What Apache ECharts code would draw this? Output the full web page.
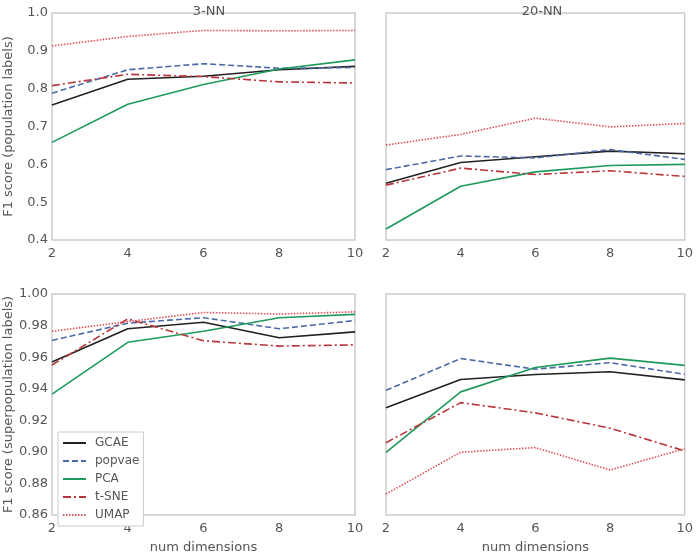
<html>
<meta http-equiv="Content-Type" content="text/html; charset=UTF-8">
<script type="text/javascript" src="https://cdn.jsdelivr.net/npm/echarts@6/dist/echarts.min.js"></script>
<body style="margin:0;background:#fff">
<div id="chart" style="width:696px;height:555px;"></div>
<script type="text/javascript">
var dims = [2, 4, 6, 8, 10];
var methods = ["GCAE", "popvae", "PCA", "t-SNE", "UMAP"];
var panelTitles = ["3-NN", "20-NN"];

// population labels, 3-NN
var pop3_GCAE   = [0.757, 0.825, 0.833, 0.850, 0.859];
var pop3_popvae = [0.788, 0.850, 0.866, 0.854, 0.856];
var pop3_PCA    = [0.658, 0.759, 0.811, 0.852, 0.876];
var pop3_tSNE   = [0.808, 0.838, 0.832, 0.818, 0.815];
var pop3_UMAP   = [0.913, 0.938, 0.954, 0.953, 0.954];
// population labels, 20-NN
var pop20_GCAE   = [0.550, 0.605, 0.620, 0.635, 0.628];
var pop20_popvae = [0.586, 0.622, 0.617, 0.639, 0.613];
var pop20_PCA    = [0.429, 0.542, 0.580, 0.597, 0.600];
var pop20_tSNE   = [0.545, 0.590, 0.573, 0.583, 0.568];
var pop20_UMAP   = [0.651, 0.679, 0.722, 0.699, 0.708];
// superpopulation labels, 3-NN
var sup3_GCAE   = [0.9569, 0.9780, 0.9821, 0.9723, 0.9760];
var sup3_popvae = [0.9706, 0.9815, 0.9850, 0.9780, 0.9832];
var sup3_PCA    = [0.9366, 0.9694, 0.9764, 0.9850, 0.9871];
var sup3_tSNE   = [0.9550, 0.9842, 0.9704, 0.9670, 0.9678];
var sup3_UMAP   = [0.9764, 0.9825, 0.9883, 0.9873, 0.9887];
// superpopulation labels, 20-NN
var sup20_GCAE   = [0.9280, 0.9458, 0.9490, 0.9507, 0.9456];
var sup20_popvae = [0.9390, 0.9591, 0.9524, 0.9565, 0.9491];
var sup20_PCA    = [0.8996, 0.9380, 0.9534, 0.9594, 0.9548];
var sup20_tSNE   = [0.9058, 0.9312, 0.9247, 0.9150, 0.9006];
var sup20_UMAP   = [0.8733, 0.8998, 0.9027, 0.8885, 0.9020];

var panels = [
  [pop3_GCAE, pop3_popvae, pop3_PCA, pop3_tSNE, pop3_UMAP],
  [pop20_GCAE, pop20_popvae, pop20_PCA, pop20_tSNE, pop20_UMAP],
  [sup3_GCAE, sup3_popvae, sup3_PCA, sup3_tSNE, sup3_UMAP],
  [sup20_GCAE, sup20_popvae, sup20_PCA, sup20_tSNE, sup20_UMAP]
];

var styles = [
  {color: "#222222", type: "solid"},
  {color: "#4c6aa8", type: [6, 3]},
  {color: "#1e9a5c", type: "solid"},
  {color: "#b8363a", type: [8, 3, 2, 3]},
  {color: "#e0505a", type: [1.5, 1.5]}
];

var txt = "#555555";
var font = "DejaVu Sans";

var grids = [
  {left: 52, top: 13, width: 303, height: 227},
  {left: 386, top: 13, width: 303, height: 227},
  {left: 52, top: 294, width: 303, height: 228},
  {left: 386, top: 294, width: 303, height: 228}
];
grids.forEach(function(g){
  g.show = true; g.borderColor = "#cccccc"; g.borderWidth = 1.5; g.backgroundColor = "#fff";
});

var xAxes = [], yAxes = [], series = [];
for (var i = 0; i < 4; i++) {
  xAxes.push({
    gridIndex: i, type: "value", min: 2, max: 10, interval: 2,
    axisLine: {show: false}, axisTick: {show: false}, splitLine: {show: false},
    axisLabel: {color: txt, fontSize: 13, fontFamily: font, margin: 7},
    name: i >= 2 ? "num dimensions" : "", nameLocation: "middle", nameGap: 26,
    nameTextStyle: {color: txt, fontSize: 13, fontFamily: font}
  });
  var isTop = i < 2;
  yAxes.push({
    gridIndex: i, type: "value",
    min: isTop ? 0.4 : 0.86, max: 1.0, interval: isTop ? 0.1 : 0.02,
    axisLine: {show: false}, axisTick: {show: false}, splitLine: {show: false},
    axisLabel: {
      show: i % 2 === 0, color: txt, fontSize: 13, fontFamily: font, margin: 4,
      formatter: (function(t){ return function(v){ return v.toFixed(t ? 1 : 2); }; })(isTop)
    },
    name: i === 0 ? "F1 score (population labels)" : (i === 2 ? "F1 score (superpopulation labels)" : ""),
    nameLocation: "middle", nameGap: 37,
    nameTextStyle: {color: txt, fontSize: 13, fontFamily: font}
  });
  for (var m = 0; m < 5; m++) {
    series.push({
      name: methods[m], type: "line", xAxisIndex: i, yAxisIndex: i,
      data: dims.map(function(d, k){ return [d, panels[i][m][k]]; }),
      symbol: "none", silent: true, animation: false,
      lineStyle: {color: styles[m].color, type: styles[m].type, width: 1.6},
      itemStyle: {color: styles[m].color}
    });
  }
}

var chart = echarts.init(document.getElementById("chart"));
chart.setOption({
  backgroundColor: "#fff",
  animation: false,
  title: [
    {text: panelTitles[0], left: 204, top: 0, textAlign: "center",
     textStyle: {color: txt, fontSize: 13, fontWeight: "normal", fontFamily: font}},
    {text: panelTitles[1], left: 537, top: 0, textAlign: "center",
     textStyle: {color: txt, fontSize: 13, fontWeight: "normal", fontFamily: font}}
  ],
  legend: {
    data: methods, orient: "vertical", left: 58, top: 432,
    itemWidth: 23, itemHeight: 10, itemGap: 6, padding: [5, 4, 5, 4],
    borderColor: "#cccccc", borderWidth: 1, backgroundColor: "#fff",
    itemStyle: {opacity: 0},
    textStyle: {color: txt, fontSize: 12, fontFamily: font, padding: [0, 0, 0, 4]},
    selectedMode: false
  },
  grid: grids,
  xAxis: xAxes,
  yAxis: yAxes,
  series: series
});
</script>
</body>
</html>
